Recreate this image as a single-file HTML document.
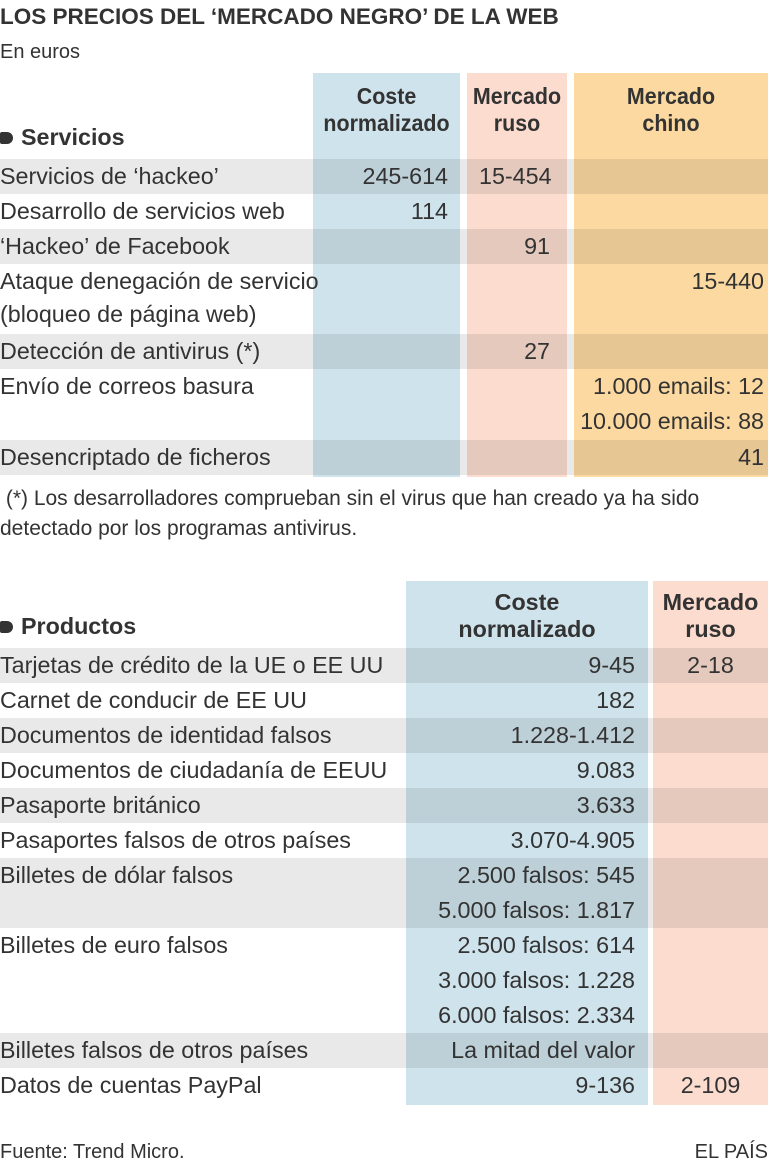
<!DOCTYPE html>
<html><head><meta charset="utf-8"><style>
*{margin:0;padding:0;box-sizing:border-box}
body{width:768px;height:1166px;background:#fff;position:relative;overflow:hidden;font-family:"Liberation Sans",Arial,sans-serif;color:#333}
.a{position:absolute}
.bl{background:#cfe3ec}.pk{background:#fbdccf}.or{background:#fcd9a0}
.g{position:absolute;left:0;width:768px;height:35px;background:rgba(0,0,0,0.085)}
.t{position:absolute;font-size:23.3px;line-height:35px;white-space:nowrap}
.r{text-align:right}
.c{text-align:center}
.h{position:absolute;font-size:23.3px;font-weight:bold;line-height:27px;text-align:center;color:#333}
.sec{position:absolute;font-size:23.3px;font-weight:bold;left:0}
.sec:before{content:"";display:inline-block;width:13px;height:12px;background:#333;border-radius:2px 6px 6px 2px;margin-right:8px;vertical-align:1px}
</style></head><body>
<div class="a" style="left:0;top:4px;font-size:22.5px;font-weight:bold;white-space:nowrap">LOS PRECIOS DEL ‘MERCADO NEGRO’ DE LA WEB</div>
<div class="a" style="left:0;top:41px;font-size:20px">En euros</div>

<div class="a bl" style="left:313px;top:73px;width:147px;height:404px"></div>
<div class="a pk" style="left:467px;top:73px;width:100px;height:404px"></div>
<div class="a or" style="left:574px;top:73px;width:194px;height:404px"></div>
<div class="h" style="left:303px;top:83px;width:167px;transform:scaleX(0.92)">Coste<br>normalizado</div>
<div class="h" style="left:457px;top:83px;width:120px;transform:scaleX(0.92)">Mercado<br>ruso</div>
<div class="h" style="left:574px;top:83px;width:194px;transform:scaleX(0.92)">Mercado<br>chino</div>
<div class="sec" style="top:124px">Servicios</div>

<div class="g" style="top:159px"></div>
<div class="g" style="top:229px"></div>
<div class="g" style="top:334px"></div>
<div class="g" style="top:440px"></div>

<div class="t" style="left:0;top:159px">Servicios de ‘hackeo’</div>
<div class="t r" style="left:300px;width:148px;top:159px">245-614</div>
<div class="t" style="left:479px;top:159px">15-454</div>
<div class="t" style="left:0;top:194px">Desarrollo de servicios web</div>
<div class="t r" style="left:313px;width:135px;top:194px">114</div>
<div class="t" style="left:0;top:229px">‘Hackeo’ de Facebook</div>
<div class="t r" style="left:467px;width:83px;top:229px">91</div>
<div class="t" style="left:0;top:264px">Ataque denegación de servicio</div>
<div class="t" style="left:0;top:297px">(bloqueo de página web)</div>
<div class="t r" style="left:574px;width:190px;top:264px">15-440</div>
<div class="t" style="left:0;top:334px">Detección de antivirus (*)</div>
<div class="t r" style="left:467px;width:83px;top:334px">27</div>
<div class="t" style="left:0;top:369px">Envío de correos basura</div>
<div class="t r" style="left:574px;width:190px;top:369px">1.000 emails: 12</div>
<div class="t r" style="left:560px;width:204px;top:404px">10.000 emails: 88</div>
<div class="t" style="left:0;top:440px">Desencriptado de ficheros</div>
<div class="t r" style="left:574px;width:190px;top:440px">41</div>

<div class="a" style="left:0;top:484px;font-size:21px;line-height:30px;white-space:nowrap">&nbsp;(*) Los desarrolladores comprueban sin el virus que han creado ya ha sido<br>detectado por los programas antivirus.</div>

<div class="a bl" style="left:406px;top:581px;width:242px;height:524px"></div>
<div class="a pk" style="left:653px;top:581px;width:115px;height:524px"></div>
<div class="h" style="left:406px;top:589px;width:242px">Coste<br>normalizado</div>
<div class="h" style="left:653px;top:589px;width:115px">Mercado<br>ruso</div>
<div class="sec" style="top:613px">Productos</div>

<div class="g" style="top:648px"></div>
<div class="g" style="top:718px"></div>
<div class="g" style="top:788px"></div>
<div class="g" style="top:858px;height:70px"></div>
<div class="g" style="top:1033px"></div>

<div class="t" style="left:0;top:648px">Tarjetas de crédito de la UE o EE UU</div>
<div class="t r" style="left:406px;width:229px;top:648px">9-45</div>
<div class="t c" style="left:653px;width:115px;top:648px">2-18</div>
<div class="t" style="left:0;top:683px">Carnet de conducir de EE UU</div>
<div class="t r" style="left:406px;width:229px;top:683px">182</div>
<div class="t" style="left:0;top:718px">Documentos de identidad falsos</div>
<div class="t r" style="left:406px;width:229px;top:718px">1.228-1.412</div>
<div class="t" style="left:0;top:753px">Documentos de ciudadanía de EEUU</div>
<div class="t r" style="left:406px;width:229px;top:753px">9.083</div>
<div class="t" style="left:0;top:788px">Pasaporte británico</div>
<div class="t r" style="left:406px;width:229px;top:788px">3.633</div>
<div class="t" style="left:0;top:823px">Pasaportes falsos de otros países</div>
<div class="t r" style="left:406px;width:229px;top:823px">3.070-4.905</div>
<div class="t" style="left:0;top:858px">Billetes de dólar falsos</div>
<div class="t r" style="left:406px;width:229px;top:858px">2.500 falsos: 545</div>
<div class="t r" style="left:406px;width:229px;top:893px">5.000 falsos: 1.817</div>
<div class="t" style="left:0;top:928px">Billetes de euro falsos</div>
<div class="t r" style="left:406px;width:229px;top:928px">2.500 falsos: 614</div>
<div class="t r" style="left:406px;width:229px;top:963px">3.000 falsos: 1.228</div>
<div class="t r" style="left:406px;width:229px;top:998px">6.000 falsos: 2.334</div>
<div class="t" style="left:0;top:1033px">Billetes falsos de otros países</div>
<div class="t r" style="left:406px;width:229px;top:1033px">La mitad del valor</div>
<div class="t" style="left:0;top:1068px">Datos de cuentas PayPal</div>
<div class="t r" style="left:406px;width:229px;top:1068px">9-136</div>
<div class="t c" style="left:653px;width:115px;top:1068px">2-109</div>

<div class="a" style="left:0;top:1141px;font-size:20px">Fuente: Trend Micro.</div>
<div class="a" style="right:0;top:1141px;font-size:20px">EL PAÍS</div>
</body></html>
